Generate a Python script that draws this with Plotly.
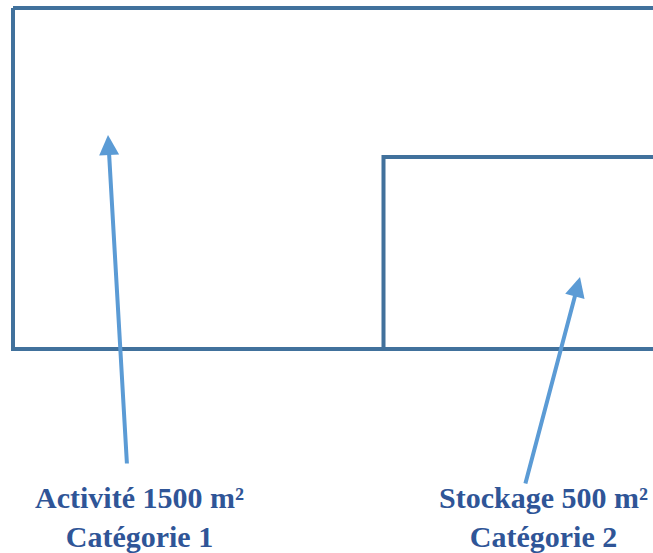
import plotly.graph_objects as go

# building outline (pixel-space coordinates of the drawing)
outer_x = [13, 700, 700, 13, 13]
outer_y = [8, 8, 349, 349, 8]
inner_x = [383.5, 383.5, 700]
inner_y = [349, 157, 157]

# arrows: tail -> tip
arrow_tail_x = [127, 525]
arrow_tail_y = [465, 485]
arrow_tip_x = [108, 580]
arrow_tip_y = [135, 277]

labels = ["Activité 1500 m²<br>Catégorie 1", "Stockage 500 m²<br>Catégorie 2"]
label_x = [139, 543]
label_y = [517, 517]

line_col = "#41719C"
arrow_col = "#5B9BD5"
text_col = "#2F5597"

fig = go.Figure()

fig.add_trace(go.Scatter(x=outer_x, y=outer_y, mode="lines",
                         line=dict(color=line_col, width=4), hoverinfo="skip"))
fig.add_trace(go.Scatter(x=inner_x, y=inner_y, mode="lines",
                         line=dict(color=line_col, width=4), hoverinfo="skip"))

for i in range(2):
    fig.add_annotation(
        x=arrow_tip_x[i], y=arrow_tip_y[i],
        ax=arrow_tail_x[i], ay=arrow_tail_y[i],
        xref="x", yref="y", axref="x", ayref="y",
        text="", showarrow=True,
        arrowhead=2, arrowsize=1, arrowwidth=4, arrowcolor=arrow_col,
    )
    fig.add_annotation(
        x=label_x[i], y=label_y[i], xref="x", yref="y",
        text="<b>" + labels[i] + "</b>", showarrow=False,
        font=dict(family="Liberation Serif", size=30, color=text_col),
        align="center",
    )

fig.update_xaxes(range=[0, 653], visible=False, showgrid=False)
fig.update_yaxes(range=[553, 0], visible=False, showgrid=False)
fig.update_layout(
    width=653, height=553,
    margin=dict(l=0, r=0, t=0, b=0),
    paper_bgcolor="white", plot_bgcolor="white",
    showlegend=False,
)

fig.write_html("out.html", config={"displayModeBar": False},
               post_script="document.body.style.margin='0px';")
